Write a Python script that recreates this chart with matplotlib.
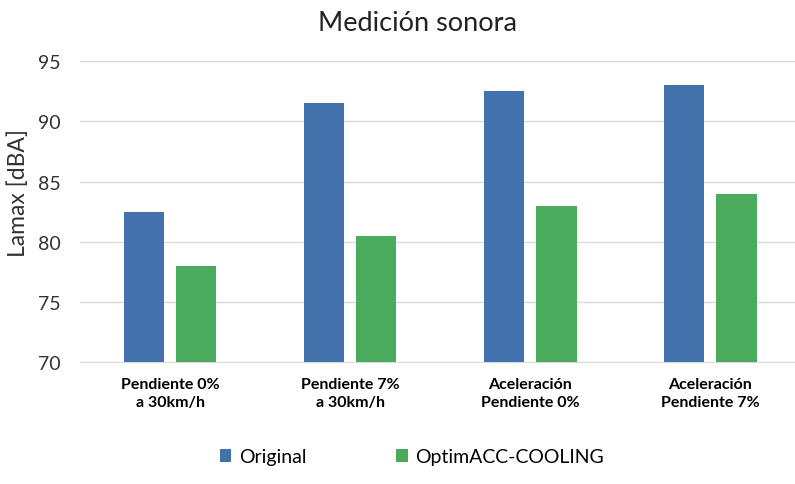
import numpy as np
import matplotlib.pyplot as plt

categories = ["Pendiente 0%\na 30km/h", "Pendiente 7%\na 30km/h",
              "Aceleración\nPendiente 0%", "Aceleración\nPendiente 7%"]
original = [82.5, 91.5, 92.5, 93.0]
optim = [78.0, 80.5, 83.0, 84.0]
yticks = [70, 75, 80, 85, 90, 95]

plt.rcParams['font.family'] = ['Lato', 'DejaVu Sans']

fig = plt.figure(figsize=(7.95, 4.85), dpi=100)
ax = fig.add_axes([0.1006, 0.2515, 0.906, 0.620])

x = np.arange(len(categories))
w = 0.225
off = 0.145
b1 = ax.bar(x - off, original, w, bottom=0, color='#4371AC', label='Original', zorder=3)
b2 = ax.bar(x + off, optim, w, bottom=0, color='#4AAB5C', label='OptimACC-COOLING', zorder=3)

ax.set_xlim(-0.5, 3.5)
ax.set_ylim(70, 95)
ax.set_yticks(yticks)
ax.tick_params(axis='y', length=0, labelsize=14, pad=14, labelcolor='#333333')
ax.set_xticks(x)
ax.set_xticklabels(categories, fontsize=11.5, fontweight='bold', linespacing=1.3)
ax.tick_params(axis='x', length=0, pad=11)
ax.grid(axis='y', color='#D9D9D9', linewidth=1, zorder=0)
for s in ['top', 'right', 'left']:
    ax.spines[s].set_visible(False)
ax.spines['bottom'].set_color('#D9D9D9')

ax.set_ylabel('Lamax [dBA]', fontsize=16.5, color='#333333')
ax.yaxis.set_label_coords(-0.071, 0.565)
fig.text(0.525, 0.952, 'Medición sonora', ha='center', va='center', fontsize=19.5, color='#222222')

fig.legend(handles=[b1, b2], loc='center', bbox_to_anchor=(0.518, 0.056), ncol=2,
           frameon=False, fontsize=14, columnspacing=4.6, handlelength=0.6,
           handleheight=0.6, handletextpad=0.4)

fig.savefig('out.png', dpi=100)
